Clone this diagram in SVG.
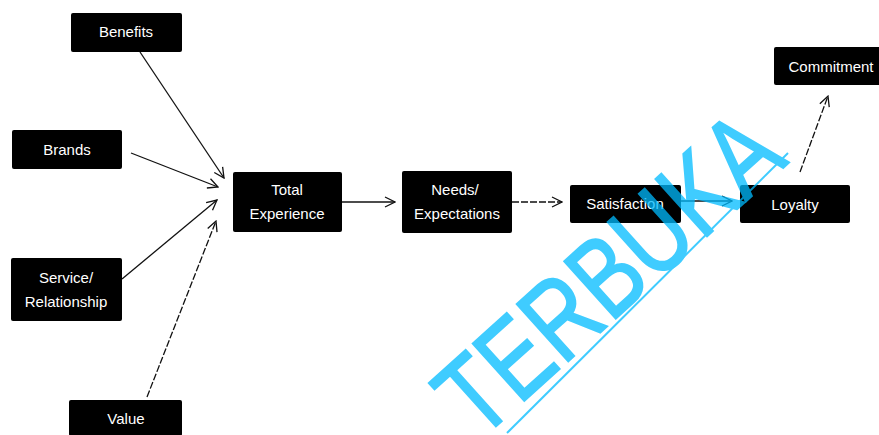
<svg xmlns="http://www.w3.org/2000/svg" width="879" height="435" viewBox="0 0 879 435">
  <defs>
    <marker id="arrow" viewBox="0 0 12 12" refX="11" refY="6" markerWidth="12" markerHeight="12" markerUnits="userSpaceOnUse" orient="auto">
      <path d="M1,1 L11,6 L1,11" fill="none" stroke="#111" stroke-width="1.3"/>
    </marker>
  </defs>
  <style>
    .box { fill: #000; }
    .label { fill: #fff; font-family: "Liberation Sans", Arial, sans-serif; font-size: 15px; text-anchor: middle; }
    .link { stroke: #111; stroke-width: 1.3; fill: none; marker-end: url(#arrow); }
    .dash { stroke-dasharray: 7 2; }
    .mark { fill: #00BBFF; stroke: #00BBFF; stroke-width: 2; font-family: "Liberation Sans", Arial, sans-serif; font-size: 112px; }
  </style>
  <rect width="879" height="435" fill="#fff"/>

  <!-- connectors -->
  <g id="connectors">
    <line class="link" x1="140" y1="52" x2="224" y2="178"/>
    <line class="link" x1="131" y1="153" x2="218" y2="187"/>
    <line class="link" x1="122" y1="279" x2="217" y2="200"/>
    <line class="link dash" x1="147" y1="397" x2="216" y2="221"/>
    <line class="link" x1="342" y1="202" x2="395" y2="202"/>
    <line class="link dash" x1="512" y1="202" x2="562" y2="202"/>
    <line class="link" x1="681" y1="201" x2="732" y2="201"/>
    <line class="link dash" x1="800" y1="172" x2="828" y2="96"/>
  </g>

  <!-- nodes -->
  <g id="benefits">
    <rect class="box" x="71" y="13" width="111" height="39" rx="2"/>
    <text class="label" x="126" y="37">Benefits</text>
  </g>
  <g id="brands">
    <rect class="box" x="12" y="130" width="110" height="39" rx="2"/>
    <text class="label" x="67" y="155">Brands</text>
  </g>
  <g id="service">
    <rect class="box" x="11" y="258" width="111" height="63" rx="2"/>
    <text class="label" x="66" y="283">Service/</text>
    <text class="label" x="66" y="307">Relationship</text>
  </g>
  <g id="value">
    <rect class="box" x="69" y="400" width="113" height="36" rx="2"/>
    <text class="label" x="126" y="424">Value</text>
  </g>
  <g id="total-experience">
    <rect class="box" x="233" y="172" width="109" height="60" rx="2"/>
    <text class="label" x="287" y="195">Total</text>
    <text class="label" x="287" y="219">Experience</text>
  </g>
  <g id="needs-expectations">
    <rect class="box" x="402" y="171" width="110" height="62" rx="2"/>
    <text class="label" x="455" y="195">Needs/</text>
    <text class="label" x="457" y="219">Expectations</text>
  </g>
  <g id="satisfaction">
    <rect class="box" x="570" y="185" width="111" height="38" rx="2"/>
    <text class="label" x="625" y="209">Satisfaction</text>
  </g>
  <g id="loyalty">
    <rect class="box" x="740" y="185" width="110" height="38" rx="2"/>
    <text class="label" x="795" y="210">Loyalty</text>
  </g>
  <g id="commitment">
    <rect class="box" x="774" y="47" width="110" height="38" rx="2"/>
    <text class="label" x="831" y="72">Commitment</text>
  </g>

  <!-- watermark, translucent so it darkens over the black boxes -->
  <g id="watermark" opacity="0.75">
    <text class="mark" x="0" y="0" text-anchor="middle" textLength="418" lengthAdjust="spacingAndGlyphs" transform="translate(634,302) rotate(-42)">TERBUKA</text>
    <line x1="507" y1="433" x2="788" y2="153" stroke="#00BBFF" stroke-width="2"/>
  </g>
</svg>
